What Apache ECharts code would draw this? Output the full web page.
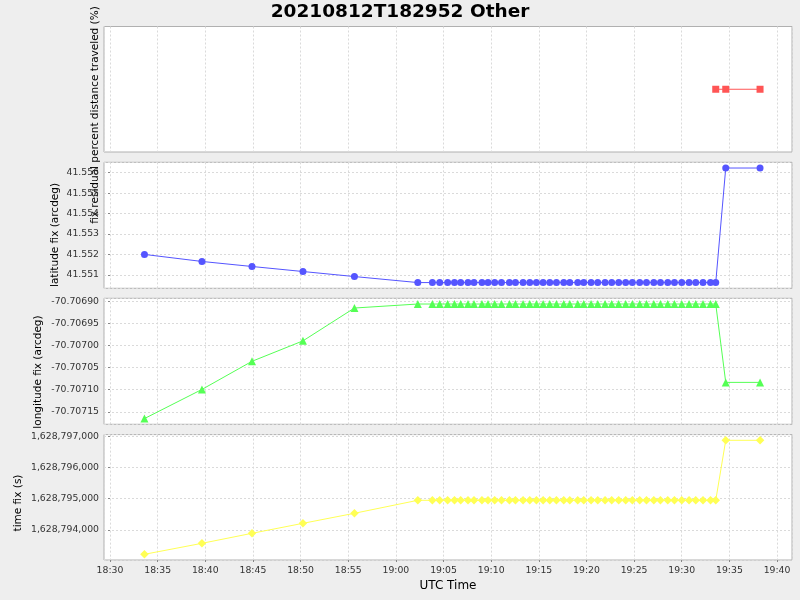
<!DOCTYPE html>
<html>
<head>
<meta charset="utf-8">
<script src="https://cdn.jsdelivr.net/npm/echarts@6/dist/echarts.min.js"></script>
<style>
html,body{margin:0;padding:0;background:#eeeeee;}
#chart{width:800px;height:600px;}
</style>
</head>
<body>
<div id="chart"></div>
<script>
const chartTitle = "20210812T182952 Other";
const xAxisTitle = "UTC Time";
const panelLabels = ["fix residual percent distance traveled (%)", "latitude fix (arcdeg)", "longitude fix (arcdeg)", "time fix (s)"];

const times = ["18:33:37","18:39:39","18:44:54","18:50:15","18:55:39","19:02:18","19:03:50","19:04:36","19:05:26","19:06:09",
  "19:06:48","19:07:34","19:08:12","19:09:02","19:09:40","19:10:22","19:11:05","19:11:55","19:12:33","19:13:21",
  "19:14:03","19:14:45","19:15:27","19:16:09","19:16:51","19:17:37","19:18:15","19:19:05","19:19:43","19:20:29",
  "19:21:11","19:21:57","19:22:39","19:23:23","19:24:07","19:24:49","19:25:35","19:26:18","19:27:04","19:27:46",
  "19:28:32","19:29:14","19:30:00","19:30:46","19:31:28","19:32:14","19:33:01","19:33:34","19:34:37","19:38:13"];

const residualTimes = ["19:33:34","19:34:37","19:38:13"];
const residualValues = [0, 0, 0];

const latitudeValues = [41.552003,41.551659,41.551413,41.551167,41.550921,41.550626,41.550626,41.550626,41.550626,41.550626,
  41.550626,41.550626,41.550626,41.550626,41.550626,41.550626,41.550626,41.550626,41.550626,41.550626,
  41.550626,41.550626,41.550626,41.550626,41.550626,41.550626,41.550626,41.550626,41.550626,41.550626,
  41.550626,41.550626,41.550626,41.550626,41.550626,41.550626,41.550626,41.550626,41.550626,41.550626,
  41.550626,41.550626,41.550626,41.550626,41.550626,41.550626,41.550626,41.550626,41.556231,41.556231];

const longitudeValues = [-70.7071655,-70.7070993,-70.7070354,-70.7069890,-70.7069144,-70.7069053,-70.7069053,-70.7069053,-70.7069053,-70.7069053,
  -70.7069053,-70.7069053,-70.7069053,-70.7069053,-70.7069053,-70.7069053,-70.7069053,-70.7069053,-70.7069053,-70.7069053,
  -70.7069053,-70.7069053,-70.7069053,-70.7069053,-70.7069053,-70.7069053,-70.7069053,-70.7069053,-70.7069053,-70.7069053,
  -70.7069053,-70.7069053,-70.7069053,-70.7069053,-70.7069053,-70.7069053,-70.7069053,-70.7069053,-70.7069053,-70.7069053,
  -70.7069053,-70.7069053,-70.7069053,-70.7069053,-70.7069053,-70.7069053,-70.7069053,-70.7069053,-70.7070833,-70.7070833];

const timeFixValues = [1628793224,1628793575,1628793895,1628794214,1628794534,1628794949,1628794949,1628794949,1628794949,1628794949,
  1628794949,1628794949,1628794949,1628794949,1628794949,1628794949,1628794949,1628794949,1628794949,1628794949,
  1628794949,1628794949,1628794949,1628794949,1628794949,1628794949,1628794949,1628794949,1628794949,1628794949,
  1628794949,1628794949,1628794949,1628794949,1628794949,1628794949,1628794949,1628794949,1628794949,1628794949,
  1628794949,1628794949,1628794949,1628794949,1628794949,1628794949,1628794949,1628794949,1628796866,1628796866];

// minutes since 18:30 UTC
function toMin(s){ const p = s.split(':').map(Number); return (p[0]*60 + p[1] + p[2]/60) - (18*60 + 30); }
function pairs(ts, vs){ return ts.map((t,i)=>[toMin(t), vs[i]]); }
function fmtTime(v){ const tot = Math.round(18*60+30+v); const h = Math.floor(tot/60), m = tot%60; return String(h).padStart(2,'0')+':'+String(m).padStart(2,'0'); }
function commas(v){ const n = Math.round(v).toString(); return n.replace(/\B(?=(\d{3})+(?!\d))/g, ','); }

const FONT = '"DejaVu Sans", sans-serif';
const TICK_SIZE = 9.3;
const grids = [
  {left:104, right:8, top:26.5, height:125.5},
  {left:104, right:8, top:162.3, height:126},
  {left:104, right:8, top:298.3, height:126},
  {left:104, right:8, top:434.6, height:125.4}
].map(g => Object.assign(g, {show:true, backgroundColor:'#ffffff', borderColor:'#b0b0b0', borderWidth:1, containLabel:false}));

const gridLine = {show:true, lineStyle:{color:'#dadada', type:[2,2], width:1}};

const xAxes = [0,1,2,3].map(i => ({
  type:'value', gridIndex:i, min:-0.63, max:71.57, minInterval:5, maxInterval:5,
  axisLine:{show:false}, splitLine:gridLine,
  axisTick:{show:i===3, length:2, lineStyle:{color:'#888'}},
  axisLabel:{show:i===3, formatter:fmtTime, fontFamily:FONT, fontSize:TICK_SIZE, color:'#333', margin:6, showMinLabel:false, showMaxLabel:false}
}));

function yAx(i, min, max, step, fmt){
  return {
    type:'value', gridIndex:i, min:min, max:max, minInterval:step, maxInterval:step,
    axisLine:{show:false},
    splitLine: step ? gridLine : {show:false},
    axisTick:{show:!!step, length:2, lineStyle:{color:'#888'}},
    axisLabel:{show:!!step, formatter:fmt, fontFamily:FONT, fontSize:TICK_SIZE, color:'#333', margin:5, showMinLabel:false, showMaxLabel:false}
  };
}
const yAxes = [
  yAx(0, -1, 1, null, null),
  yAx(1, 41.550346, 41.556511, 0.001, v => v.toFixed(3)),
  yAx(2, -70.7071785, -70.7068923, 0.00005, v => v.toFixed(5)),
  yAx(3, 1628793042, 1628797048, 1000, commas)
];
yAxes[0].axisTick = {show:false};
yAxes[0].axisLabel = {show:false};

function ser(i, data, color, symbol, size){
  return {type:'line', xAxisIndex:i, yAxisIndex:i, data:data, symbol:symbol, symbolSize:size,
    lineStyle:{color:color, width:1}, itemStyle:{color:color}, showSymbol:true, animation:false};
}

function vlabel(text, x, y){
  return {type:'text', x:x, y:y, rotation:Math.PI/2,
    style:{text:text, font:'10.5px ' + FONT, fill:'#000', textAlign:'center', textVerticalAlign:'middle'}};
}

const option = {
  backgroundColor:'#eeeeee',
  animation:false,
  grid:grids,
  xAxis:xAxes,
  yAxis:yAxes,
  series:[
    ser(0, pairs(residualTimes, residualValues), '#ff5555', 'rect', 7),
    ser(1, pairs(times, latitudeValues), '#5555ff', 'circle', 7),
    ser(2, pairs(times, longitudeValues), '#55ff55', 'triangle', 8),
    ser(3, pairs(times, timeFixValues), '#ffff55', 'diamond', 8.5)
  ],
  graphic:[
    {type:'text', x:400, y:12.5, style:{text:chartTitle, font:'bold 18.5px ' + FONT, fill:'#000', textAlign:'center', textVerticalAlign:'middle'}},
    {type:'text', x:448, y:586, style:{text:xAxisTitle, font:'12px ' + FONT, fill:'#000', textAlign:'center', textVerticalAlign:'middle'}},
    vlabel(panelLabels[0], 95, 115),
    vlabel(panelLabels[1], 55, 235),
    vlabel(panelLabels[2], 38, 372),
    vlabel(panelLabels[3], 18, 503)
  ]
};
const chart = echarts.init(document.getElementById('chart'), null, {renderer:'canvas'});
chart.setOption(option);
</script>
</body>
</html>
